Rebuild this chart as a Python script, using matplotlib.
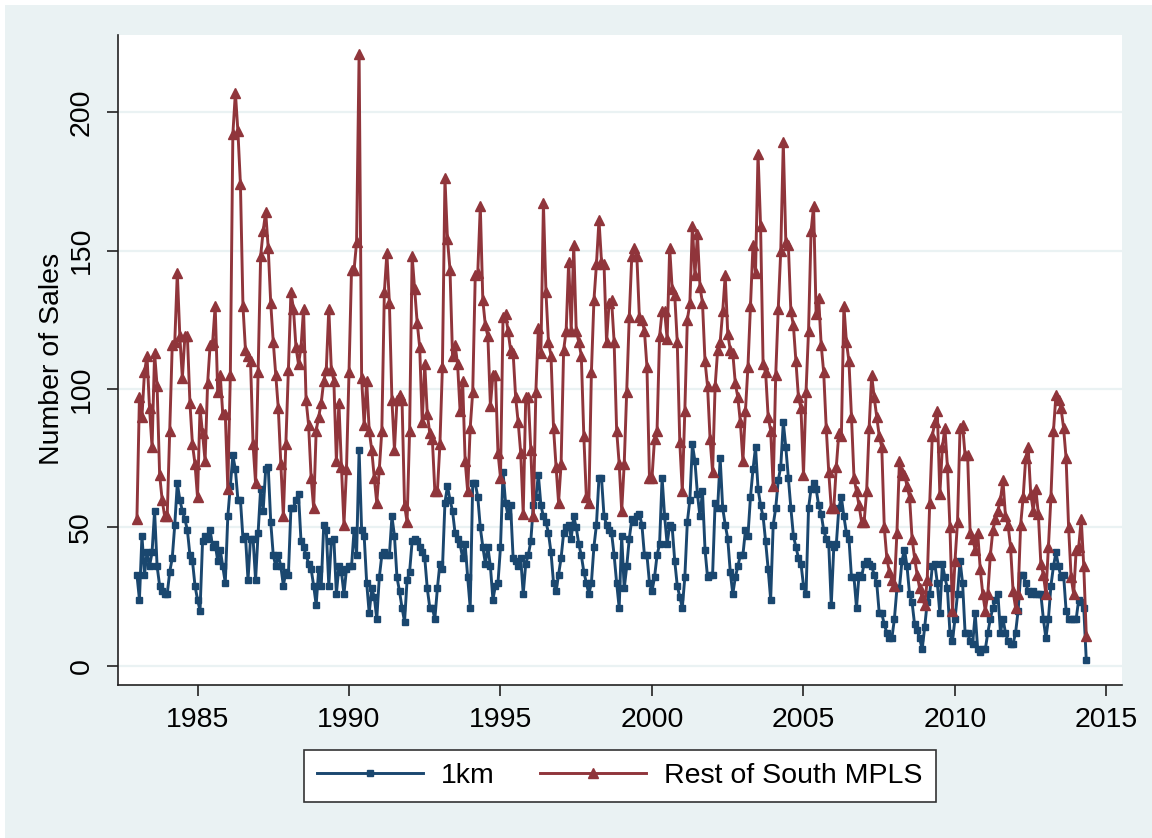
import numpy as np
import matplotlib.pyplot as plt
from matplotlib.patches import Rectangle

plt.rcParams['font.family'] = ['Liberation Sans', 'DejaVu Sans']

# monthly sales, Jan 1983 - May 2014
start_year = 1983

km1 = [
    33, 24, 47, 33, 41, 36, 41, 56, 36, 29, 27, 26,   # 1983
    26, 34, 39, 51, 66, 60, 56, 53, 49, 40, 38, 29,   # 1984
    24, 20, 45, 47, 46, 49, 43, 44, 38, 42, 36, 30,   # 1985
    54, 65, 76, 71, 60, 60, 46, 47, 31, 46, 46, 31,   # 1986
    48, 64, 56, 71, 72, 52, 40, 36, 40, 36, 29, 34,   # 1987
    33, 57, 57, 60, 62, 45, 43, 40, 37, 35, 29, 22,   # 1988
    35, 29, 51, 49, 29, 45, 46, 26, 36, 34, 26, 35,   # 1989
    36, 36, 49, 40, 78, 49, 47, 30, 19, 28, 25, 17,   # 1990
    32, 40, 41, 40, 40, 54, 47, 32, 27, 21, 16, 31,   # 1991
    34, 45, 46, 45, 43, 41, 39, 28, 21, 21, 17, 28,   # 1992
    37, 35, 59, 65, 60, 56, 48, 46, 44, 39, 44, 32,   # 1993
    21, 66, 66, 61, 50, 43, 37, 43, 36, 24, 29, 30,   # 1994
    43, 70, 59, 54, 58, 39, 38, 36, 39, 26, 37, 40,   # 1995
    45, 58, 61, 69, 58, 54, 52, 48, 41, 30, 27, 33,   # 1996
    39, 48, 50, 51, 46, 54, 50, 44, 40, 34, 30, 26,   # 1997
    30, 43, 51, 68, 68, 54, 51, 49, 48, 40, 30, 21,   # 1998
    47, 28, 36, 46, 53, 52, 54, 55, 51, 40, 40, 30,   # 1999
    27, 32, 40, 44, 68, 54, 44, 51, 50, 38, 29, 25,   # 2000
    21, 32, 52, 60, 80, 74, 62, 54, 63, 42, 32, 33,   # 2001
    33, 59, 57, 75, 57, 51, 46, 34, 26, 32, 36, 40,   # 2002
    40, 49, 47, 61, 71, 79, 64, 58, 54, 45, 35, 24,   # 2003
    51, 57, 67, 72, 88, 79, 68, 57, 47, 43, 39, 37,   # 2004
    29, 26, 57, 64, 66, 64, 58, 55, 49, 46, 44, 22,   # 2005
    43, 44, 57, 61, 54, 48, 46, 32, 32, 21, 33, 32,   # 2006
    37, 38, 37, 36, 33, 30, 19, 19, 15, 12, 10, 10,   # 2007
    17, 28, 28, 38, 42, 36, 26, 23, 15, 13, 10, 6,    # 2008
    14, 23, 26, 36, 37, 30, 19, 37, 32, 28, 12, 9,    # 2009
    17, 26, 38, 30, 12, 12, 9, 8, 19, 6, 5, 6,        # 2010
    6, 12, 17, 21, 24, 26, 12, 17, 12, 9, 8, 8,       # 2011
    12, 20, 33, 33, 30, 27, 26, 27, 26, 26, 26, 17,   # 2012
    10, 17, 29, 36, 41, 36, 32, 33, 20, 17, 17, 17,   # 2013
    17, 24, 23, 21, 2,                                # 2014
]

rest = [
    53, 97, 90, 106, 112, 93, 79, 113, 101, 69, 60, 54,      # 1983
    54, 85, 116, 117, 142, 119, 104, 119, 119, 95, 80, 73,   # 1984
    61, 93, 84, 74, 102, 116, 117, 130, 99, 105, 91, 91,     # 1985
    64, 105, 192, 207, 193, 174, 130, 114, 112, 110, 80, 66, # 1986
    106, 148, 157, 164, 151, 131, 117, 105, 93, 73, 54, 80,  # 1987
    107, 135, 129, 115, 109, 115, 129, 96, 87, 68, 57, 85,   # 1988
    90, 95, 103, 107, 129, 107, 103, 74, 95, 72, 51, 71,     # 1989
    106, 143, 143, 153, 221, 104, 87, 103, 85, 78, 68, 59,   # 1990
    71, 85, 135, 149, 131, 96, 78, 96, 98, 96, 58, 52,       # 1991
    85, 148, 136, 124, 115, 88, 109, 91, 84, 82, 63, 63,     # 1992
    80, 108, 176, 154, 143, 112, 116, 109, 92, 103, 74, 63,  # 1993
    86, 99, 141, 142, 166, 132, 123, 119, 94, 105, 105, 77,  # 1994
    68, 126, 127, 121, 114, 113, 97, 88, 77, 55, 97, 97,     # 1995
    78, 54, 99, 122, 113, 167, 135, 117, 112, 86, 72, 59,    # 1996
    73, 114, 121, 146, 121, 152, 121, 117, 112, 83, 61, 59,  # 1997
    106, 132, 145, 161, 146, 145, 117, 131, 132, 117, 85, 73,  # 1998
    56, 73, 99, 126, 148, 151, 148, 126, 125, 121, 108, 68,  # 1999
    68, 82, 85, 119, 128, 128, 118, 151, 136, 134, 117, 81,  # 2000
    63, 92, 125, 131, 159, 141, 156, 137, 131, 110, 101, 82, # 2001
    70, 101, 114, 117, 128, 141, 120, 114, 113, 102, 97, 88, # 2002
    74, 92, 108, 130, 152, 142, 185, 159, 109, 106, 90, 85,  # 2003
    65, 105, 129, 150, 189, 153, 152, 128, 123, 110, 97, 93, # 2004
    69, 99, 121, 157, 166, 127, 133, 116, 106, 86, 70, 57,   # 2005
    57, 72, 84, 83, 130, 117, 110, 90, 68, 63, 58, 52,       # 2006
    52, 63, 86, 105, 97, 90, 83, 79, 50, 39, 34, 31,         # 2007
    29, 48, 74, 70, 69, 65, 61, 46, 39, 33, 28, 25,          # 2008
    22, 31, 59, 83, 88, 92, 62, 79, 86, 72, 50, 20,          # 2009
    38, 52, 86, 87, 76, 76, 48, 46, 42, 48, 35, 26,          # 2010
    20, 26, 40, 49, 53, 56, 60, 67, 54, 51, 43, 27,          # 2011
    21, 26, 51, 61, 75, 79, 62, 56, 64, 55, 37, 33,          # 2012
    26, 43, 61, 85, 98, 96, 93, 86, 75, 50, 32, 26,          # 2013
    42, 43, 53, 36, 11,                                      # 2014
]

year_ticks = [1985, 1990, 1995, 2000, 2005, 2010, 2015]
sales_ticks = [0, 50, 100, 150, 200]

t = start_year + np.arange(len(km1)) / 12

W, H = 1152, 838
bg = '#EAF2F3'
fig = plt.figure(figsize=(W / 100, H / 100), dpi=100)
fig.patch.set_facecolor('white')
# screenshot has a thin white strip on the top and left edges
fig.patches.append(Rectangle((5 / W, 0), 1 - 5 / W, 1 - 5 / H,
                             transform=fig.transFigure, facecolor=bg,
                             edgecolor='none', zorder=-10))

ax = fig.add_axes([118 / W, 1 - 685 / H, (1122 - 118) / W, 650 / H])
ax.set_facecolor('white')

ax.plot(t, km1, color='#1A476F', lw=2.1, marker='s', ms=4.8, label='1km')
ax.plot(t, rest, color='#90353B', lw=2.1, marker='^', ms=6.5,
        label='Rest of South MPLS')

ax.set_xlim(1982.376, 2015.512)
ax.set_ylim(-6.86, 227.8)
ax.set_xticks(year_ticks)
ax.set_yticks(sales_ticks)
ax.set_yticklabels([str(v) for v in sales_ticks], rotation=90, va='center')
ax.grid(axis='y', color=bg, lw=1.6)
ax.set_axisbelow(True)
for s in ['top', 'right']:
    ax.spines[s].set_visible(False)
for s in ['left', 'bottom']:
    ax.spines[s].set_color('#222222')
    ax.spines[s].set_linewidth(1.2)
ax.tick_params(axis='both', direction='out', length=8, width=1.2,
               color='#222222', labelsize=20.5)
ax.tick_params(axis='x', pad=8)
ax.tick_params(axis='y', pad=9)

fig.text(52 / W, 1 - 359 / H, 'Number of Sales', rotation=90,
         ha='center', va='center', fontsize=20.5)

leg = fig.legend(loc='center', bbox_to_anchor=(620 / W, 1 - 776 / H), ncol=2,
                 fontsize=20.5, frameon=True, fancybox=False, framealpha=1,
                 edgecolor='#333333', handlelength=3.7, handletextpad=0.65,
                 columnspacing=1.6, borderpad=0.45)
leg.get_frame().set_linewidth(1.2)

fig.savefig('out.png', dpi=100, facecolor=fig.get_facecolor())
